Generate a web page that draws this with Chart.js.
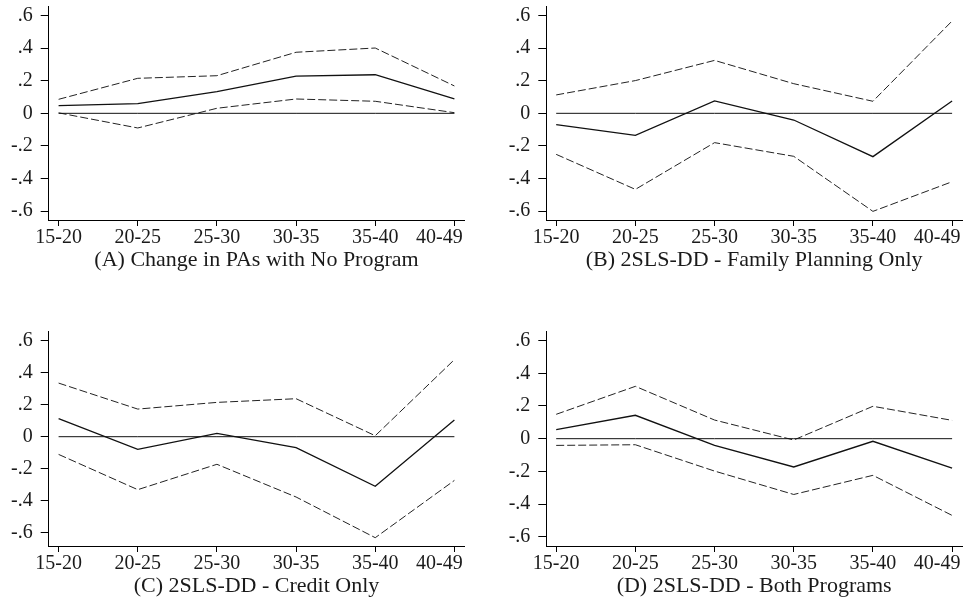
<!DOCTYPE html>
<html>
<head>
<meta charset="utf-8">
<script src="https://cdn.jsdelivr.net/npm/chart.js@4.4.1/dist/chart.umd.min.js"></script>
<style>
  html, body { margin: 0; padding: 0; background: #fff; overflow: hidden; }
  .panel { position: absolute; width: 482px; height: 301px; }
</style>
</head>
<body>
<div class="panel" style="left:0;top:0"><canvas id="panelA" width="482" height="301"></canvas></div>
<div class="panel" style="left:482px;top:0"><canvas id="panelB" width="482" height="301"></canvas></div>
<div class="panel" style="left:0;top:301px"><canvas id="panelC" width="482" height="301"></canvas></div>
<div class="panel" style="left:482px;top:301px"><canvas id="panelD" width="482" height="301"></canvas></div>
<script>
// age groups on the x axis, point estimates with upper / lower confidence bands
const ageGroups = ['15-20', '20-25', '25-30', '30-35', '35-40', '40-49'];
const yTicks = [-0.6, -0.4, -0.2, 0, 0.2, 0.4, 0.6];
const yTickLabels = ['-.6', '-.4', '-.2', '0', '.2', '.4', '.6'];
const zeroLine = [0, 0, 0, 0, 0, 0];

const estA   = [0.047, 0.059, 0.133, 0.229, 0.237, 0.088];
const upperA = [0.086, 0.215, 0.231, 0.375, 0.401, 0.168];
const lowerA = [0.003, -0.090, 0.031, 0.088, 0.074, 0.004];

const estB   = [-0.070, -0.135, 0.076, -0.041, -0.266, 0.076];
const upperB = [0.113, 0.201, 0.325, 0.182, 0.074, 0.567];
const lowerB = [-0.252, -0.467, -0.180, -0.264, -0.602, -0.420];

const estC   = [0.113, -0.079, 0.021, -0.069, -0.311, 0.104];
const upperC = [0.336, 0.173, 0.215, 0.238, 0.006, 0.483];
const lowerC = [-0.111, -0.332, -0.173, -0.378, -0.633, -0.274];

const estD   = [0.055, 0.143, -0.041, -0.173, -0.016, -0.180];
const upperD = [0.149, 0.320, 0.114, -0.008, 0.198, 0.112];
const lowerD = [-0.041, -0.037, -0.198, -0.341, -0.224, -0.469];

const FONT = 'Liberation Serif, Times New Roman, serif';
const INK = '#1a1a1a';

const pts = arr => arr.map((v, i) => ({ x: i, y: v }));

function makePanel(id, title, est, upper, lower, box) {
  new Chart(document.getElementById(id), {
    type: 'line',
    data: {
      datasets: [
        { data: pts(zeroLine), borderColor: '#111', borderWidth: 1 },
        { data: pts(upper), borderColor: '#222', borderWidth: 1, borderDash: [8, 3] },
        { data: pts(lower), borderColor: '#222', borderWidth: 1, borderDash: [8, 3] },
        { data: pts(est), borderColor: '#111', borderWidth: 1.3 }
      ]
    },
    options: {
      responsive: false,
      animation: false,
      devicePixelRatio: 1,
      layout: { padding: { left: 0, right: box.right, top: box.top, bottom: 0 } },
      elements: { point: { radius: 0 }, line: { tension: 0 } },
      plugins: { legend: { display: false }, tooltip: { enabled: false } },
      scales: {
        x: {
          type: 'linear', min: -0.125, max: 5.125,
          afterBuildTicks: s => { s.ticks = ageGroups.map((_, i) => ({ value: i })); },
          afterFit: s => { s.height = box.xh; s.paddingLeft = 0; s.paddingRight = 0; },
          ticks: {
            autoSkip: false, maxRotation: 0, padding: 0, color: INK,
            font: { family: FONT, size: 20 },
            // last label is pulled in so it ends at the axis end
            callback: v => v === ageGroups.length - 1 ? ageGroups[v] + '      ' : ageGroups[v]
          },
          grid: { drawOnChartArea: false, tickLength: 6, color: '#000' },
          border: { color: '#000', width: 1 },
          title: {
            display: true, text: title, color: INK,
            font: { family: FONT, size: 22 },
            padding: { top: 0, bottom: box.tpad }
          }
        },
        y: {
          min: box.yMin, max: box.yMax,
          afterBuildTicks: s => { s.ticks = yTicks.map(v => ({ value: v })); },
          afterFit: s => { s.width = box.left; s.paddingTop = 0; s.paddingBottom = 0; },
          ticks: {
            padding: 8, color: INK,
            font: { family: FONT, size: 20 },
            callback: (v, i) => yTickLabels[i]
          },
          grid: { drawOnChartArea: false, tickLength: 8, color: '#000' },
          border: { color: '#000', width: 1 }
        }
      }
    }
  });
}

makePanel('panelA', '(A) Change in PAs with No Program', estA, upperA, lowerA,
  { left: 48.7, right: 17.7, top: 6, xh: 81, tpad: 27.8, yMin: -0.655, yMax: 0.659 });
makePanel('panelB', '(B) 2SLS-DD - Family Planning Only', estB, upperB, lowerB,
  { left: 64.3, right: 2, top: 6, xh: 81, tpad: 27.8, yMin: -0.655, yMax: 0.659 });
makePanel('panelC', '(C) 2SLS-DD - Credit Only', estC, upperC, lowerC,
  { left: 48.7, right: 17.7, top: 30.7, xh: 56, tpad: 2.8, yMin: -0.685, yMax: 0.658 });
makePanel('panelD', '(D) 2SLS-DD - Both Programs', estD, upperD, lowerD,
  { left: 64.3, right: 2, top: 30.7, xh: 56, tpad: 2.8, yMin: -0.656, yMax: 0.654 });
</script>
</body>
</html>
